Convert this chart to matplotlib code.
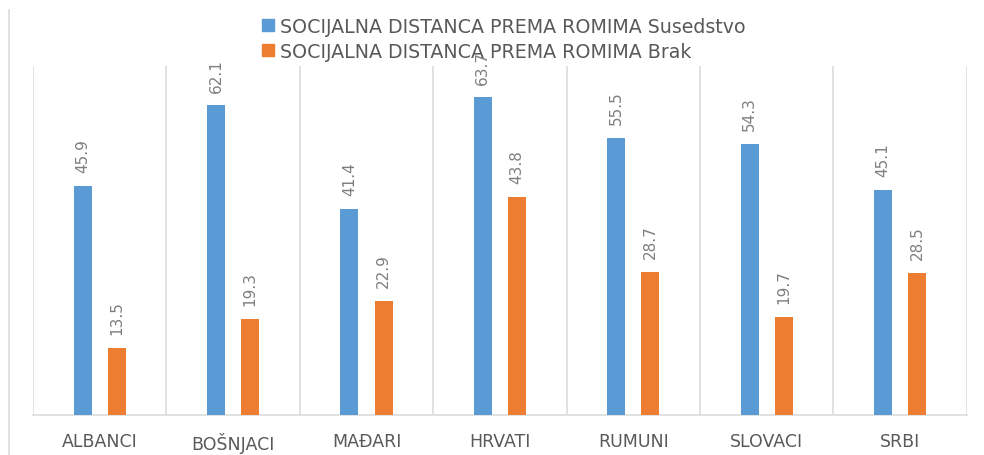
import matplotlib.pyplot as plt
import numpy as np
from matplotlib.lines import Line2D

categories = ["ALBANCI", "BOŠNJACI", "MAĐARI", "HRVATI", "RUMUNI", "SLOVACI", "SRBI"]
susedstvo = [45.9, 62.1, 41.4, 63.7, 55.5, 54.3, 45.1]
brak = [13.5, 19.3, 22.9, 43.8, 28.7, 19.7, 28.5]
series_names = ["SOCIJALNA DISTANCA PREMA ROMIMA Susedstvo",
                "SOCIJALNA DISTANCA PREMA ROMIMA Brak"]

blue = "#5B9BD5"
orange = "#ED7D31"
grey_txt = "#7f7f7f"
grid_col = "#dcdcdc"

fig = plt.figure(figsize=(9.84, 4.56), dpi=100)
ax = fig.add_axes([0.0335, 0.088, 0.949, 0.765])

x = np.arange(len(categories))
w = 0.135
off = 0.128
b1 = ax.bar(x - off, susedstvo, w, color=blue, label=series_names[0], zorder=3)
b2 = ax.bar(x + off, brak, w, color=orange, label=series_names[1], zorder=3)

ax.bar_label(b1, fmt="%.1f", rotation=90, padding=10, fontsize=11, color=grey_txt)
ax.bar_label(b2, fmt="%.1f", rotation=90, padding=10, fontsize=11, color=grey_txt)

ax.set_xlim(-0.5, len(categories) - 0.5)
ax.set_ylim(0, 70)
ax.set_yticks([])
ax.set_xticks(x)
ax.set_xticklabels(categories, fontsize=12.5, color="#595959")
ax.set_xticks(np.arange(-0.5, len(categories)), minor=True)
ax.tick_params(axis="x", which="both", length=0, pad=12)
ax.grid(axis="x", which="minor", color=grid_col, lw=1.2, zorder=0)
ax.grid(axis="x", which="major", visible=False)

for s in ["top", "left", "right"]:
    ax.spines[s].set_visible(False)
ax.spines["bottom"].set_color(grid_col)
ax.spines["bottom"].set_linewidth(1.2)

# left edge of the chart frame
fig.add_artist(Line2D([0.0095, 0.0095], [0.0, 0.975], color=grid_col, lw=1.2))

handles = [Line2D([], [], marker="s", ls="", color=blue, markersize=9),
           Line2D([], [], marker="s", ls="", color=orange, markersize=9)]
fig.legend(handles, series_names, loc="upper center", bbox_to_anchor=(0.511, 0.99),
           frameon=False, fontsize=13.7, labelcolor="#595959", handletextpad=0.2,
           labelspacing=0.3, borderpad=0.2, handlelength=0.8)

plt.savefig("out.png", dpi=100)
